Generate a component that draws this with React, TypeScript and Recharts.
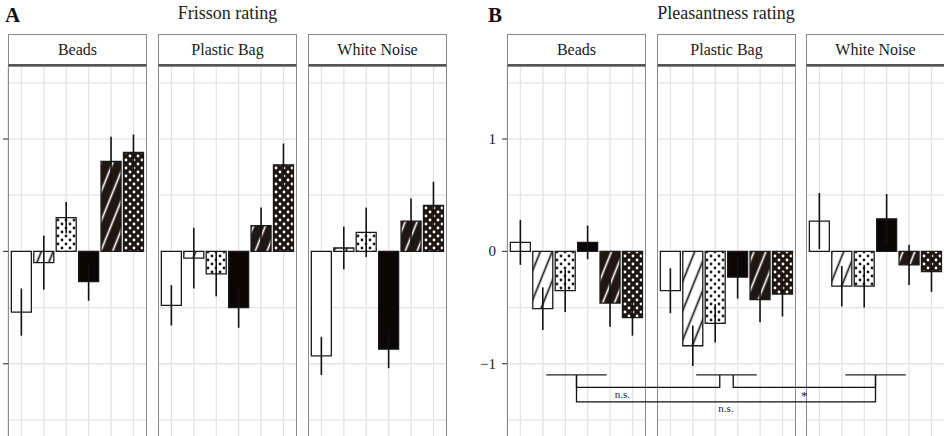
import React from 'react';
import { BarChart, Bar, XAxis, YAxis, CartesianGrid, ErrorBar, Cell } from 'recharts';

// ---------- data ----------
const conditions = ['c1', 'c2', 'c3', 'c4', 'c5', 'c6'];
const fills = ['url(#pWhite)', 'url(#pWhiteHatch)', 'url(#pWhiteDots)', 'url(#pBlack)', 'url(#pBlackHatch)', 'url(#pBlackDots)'];
const facetNames = ['Beads', 'Plastic Bag', 'White Noise'];

const frissonBeads = [-0.54, -0.1, 0.3, -0.27, 0.8, 0.88];
const frissonBeadsSE = [0.21, 0.24, 0.14, 0.17, 0.22, 0.16];
const frissonPlastic = [-0.48, -0.06, -0.2, -0.5, 0.23, 0.77];
const frissonPlasticSE = [0.18, 0.27, 0.2, 0.18, 0.16, 0.19];
const frissonNoise = [-0.93, 0.03, 0.17, -0.87, 0.27, 0.41];
const frissonNoiseSE = [0.17, 0.19, 0.22, 0.17, 0.2, 0.21];

const pleasBeads = [0.08, -0.51, -0.35, 0.08, -0.46, -0.59];
const pleasBeadsSE = [0.2, 0.19, 0.19, 0.15, 0.21, 0.16];
const pleasPlastic = [-0.35, -0.84, -0.64, -0.23, -0.43, -0.38];
const pleasPlasticSE = [0.2, 0.18, 0.17, 0.19, 0.2, 0.2];
const pleasNoise = [0.27, -0.31, -0.31, 0.29, -0.12, -0.18];
const pleasNoiseSE = [0.25, 0.18, 0.19, 0.22, 0.18, 0.18];

const yTicks = [-1.5, -1, -0.5, 0, 0.5, 1, 1.5];

// significance annotations (panel B)
const groupLevel = -1.1;
const groupMarks = [
  { facet: 0, center: 2.5, half: 1.35 },
  { facet: 1, center: 2.5, half: 1.35 },
  { facet: 2, center: 2.5, half: 1.35 },
];
const brackets = [
  { fromFacet: 0, fromPos: 2.5, toFacet: 1, toPos: 2.2, level: -1.21, label: 'n.s.', at: 0.32, dy: 10.5, size: 11 },
  { fromFacet: 1, fromPos: 2.8, toFacet: 2, toPos: 2.5, level: -1.21, label: '*', at: 0.5, dy: 13, size: 13 },
  { fromFacet: 0, fromPos: 2.5, toFacet: 2, toPos: 2.5, level: -1.34, label: 'n.s.', at: 0.5, dy: 10.5, size: 11 },
];

// ---------- layout ----------
const FONT = '"Liberation Serif", "Times New Roman", serif';
const FACET_W = 139;
const PAD = 2.24;
const BAND = (FACET_W - 2 * PAD) / 6;
const STRIP_TOP = 34;
const PLOT_TOP = 66;
const Y_MAX = 1.65;
const Y_MIN = -1.75;
const PX_PER_UNIT = 112.3;
const PLOT_H = Math.round((Y_MAX - Y_MIN) * PX_PER_UNIT);
const AXIS_W = 40;
const TICK_SIZE = 5;
const TICK_MARGIN = 6;

const panelAX = [8, 158, 308];
const panelBX = [507, 657, 806];

const yPx = (v: number) => PLOT_TOP + ((Y_MAX - v) / (Y_MAX - Y_MIN)) * PLOT_H;
const xPx = (facetXs: number[], facet: number, pos: number) => facetXs[facet] + PAD + (pos + 0.5) * BAND;

const build = (vals: number[], se: number[]) => conditions.map((c, i) => ({ cond: c, value: vals[i], se: se[i] }));

const makeTick = (showLabel: boolean) => (props: any) => {
  const { x, y, payload } = props;
  const v = payload.value;
  if (!Number.isInteger(v)) return <g />;
  return (
    <g>
      <line x1={x + TICK_MARGIN} x2={x + TICK_MARGIN + TICK_SIZE} y1={y} y2={y} stroke="#333" strokeWidth={1.1} />
      {showLabel && (
        <text x={x} y={y} dy={5} textAnchor="end" fontSize={15} fontFamily={FONT} fill="#222">
          {v < 0 ? '\u2212' + Math.abs(v) : String(v)}
        </text>
      )}
    </g>
  );
};

function Facet({ left, data, first, showLabels }: any) {
  const w = first ? FACET_W + AXIS_W : FACET_W;
  return (
    <div style={{ position: 'absolute', left: first ? left - AXIS_W : left, top: PLOT_TOP, width: w, height: PLOT_H }}>
      <BarChart width={w} height={PLOT_H} data={data} margin={{ top: 0, right: 0, bottom: 0, left: 0 }} barCategoryGap="5%">
        <CartesianGrid stroke="#e3e3e3" strokeWidth={1.3} />
        <XAxis dataKey="cond" hide padding={{ left: PAD, right: PAD }} />
        <YAxis
          domain={[Y_MIN, Y_MAX]}
          ticks={yTicks}
          allowDataOverflow
          hide={!first}
          width={AXIS_W}
          axisLine={false}
          tickLine={false}
          tickSize={TICK_SIZE}
          tickMargin={TICK_MARGIN}
          tick={makeTick(showLabels)}
          interval={0}
        />
        <Bar dataKey="value" isAnimationActive={false} stroke="#1a1a1a" strokeWidth={1.3}>
          {data.map((d: any, i: number) => (
            <Cell key={i} fill={fills[i]} />
          ))}
          <ErrorBar dataKey="se" width={0} stroke="#111" strokeWidth={1.6} direction="y" />
        </Bar>
      </BarChart>
    </div>
  );
}

function Frames({ xs }: { xs: number[] }) {
  return (
    <>
      {xs.map((x, i) => (
        <React.Fragment key={i}>
          <div
            style={{
              position: 'absolute', left: x, top: STRIP_TOP, width: FACET_W, height: PLOT_TOP - STRIP_TOP,
              boxSizing: 'border-box', border: '1px solid #8a8a8a', borderBottom: '2px solid #555',
              background: '#fff', display: 'flex', alignItems: 'center', justifyContent: 'center',
              fontFamily: FONT, fontSize: 16, color: '#1a1a1a', paddingTop: 1,
            }}
          >
            {facetNames[i]}
          </div>
          <div
            style={{
              position: 'absolute', left: x, top: PLOT_TOP, width: FACET_W, height: PLOT_H,
              boxSizing: 'border-box', border: '1px solid #8a8a8a', pointerEvents: 'none',
            }}
          />
        </React.Fragment>
      ))}
    </>
  );
}

function Patterns() {
  const dots = (bg: string, fg: string, id: string) => (
    <pattern id={id} patternUnits="userSpaceOnUse" width={8} height={8}>
      <rect width={8} height={8} fill={bg} />
      <circle cx={2} cy={2} r={1.4} fill={fg} />
      <circle cx={6} cy={6} r={1.4} fill={fg} />
    </pattern>
  );
  const hatch = (bg: string, fg: string, id: string) => (
    <pattern id={id} patternUnits="userSpaceOnUse" width={11} height={11} patternTransform="rotate(22)">
      <rect width={11} height={11} fill={bg} />
      <line x1={5.5} y1={0} x2={5.5} y2={11} stroke={fg} strokeWidth={1.7} />
    </pattern>
  );
  return (
    <svg width={0} height={0} style={{ position: 'absolute' }}>
      <defs>
        <pattern id="pWhite" patternUnits="userSpaceOnUse" width={10} height={10}>
          <rect width={10} height={10} fill="#ffffff" />
        </pattern>
        <pattern id="pBlack" patternUnits="userSpaceOnUse" width={10} height={10}>
          <rect width={10} height={10} fill="#0c0707" />
        </pattern>
        {hatch('#ffffff', '#1a1a1a', 'pWhiteHatch')}
        {dots('#ffffff', '#1a1a1a', 'pWhiteDots')}
        {hatch('#201614', '#ffffff', 'pBlackHatch')}
        {dots('#201614', '#ffffff', 'pBlackDots')}
      </defs>
    </svg>
  );
}

function Annotations() {
  const top = yPx(groupLevel);
  return (
    <svg width={944} height={436} style={{ position: 'absolute', left: 0, top: 0, pointerEvents: 'none' }}>
      {groupMarks.map((g, i) => (
        <line key={'g' + i} x1={xPx(panelBX, g.facet, g.center - g.half)} x2={xPx(panelBX, g.facet, g.center + g.half)}
          y1={top} y2={top} stroke="#222" strokeWidth={1.3} />
      ))}
      {brackets.map((b, i) => {
        const x1 = xPx(panelBX, b.fromFacet, b.fromPos);
        const x2 = xPx(panelBX, b.toFacet, b.toPos);
        const y = yPx(b.level);
        return (
          <g key={'b' + i}>
            <polyline points={`${x1},${top} ${x1},${y} ${x2},${y} ${x2},${top}`} fill="none" stroke="#111" strokeWidth={1.3} />
            <text x={x1 + (x2 - x1) * b.at} y={y + b.dy} textAnchor="middle" fontSize={b.size} fontFamily={FONT} fill="#222">
              {b.label}
            </text>
          </g>
        );
      })}
    </svg>
  );
}

function Panel({ xs, letter, letterX, title, sets, showLabels }: any) {
  const center = xs[0] + (xs[2] + FACET_W - xs[0]) / 2;
  return (
    <>
      <div style={{ position: 'absolute', left: letterX, top: 3, fontFamily: FONT, fontWeight: 'bold', fontSize: 21, color: '#111', lineHeight: '24px' }}>
        {letter}
      </div>
      <div style={{ position: 'absolute', left: center - 150, width: 300, top: 1, textAlign: 'center', fontFamily: FONT, fontSize: 18, color: '#222', lineHeight: '24px' }}>
        {title}
      </div>
      {sets.map((d: any, i: number) => (
        <Facet key={i} left={xs[i]} data={d} first={i === 0} showLabels={showLabels} />
      ))}
      <Frames xs={xs} />
    </>
  );
}

export default function App() {
  const setsA = [build(frissonBeads, frissonBeadsSE), build(frissonPlastic, frissonPlasticSE), build(frissonNoise, frissonNoiseSE)];
  const setsB = [build(pleasBeads, pleasBeadsSE), build(pleasPlastic, pleasPlasticSE), build(pleasNoise, pleasNoiseSE)];
  return (
    <div style={{ position: 'absolute', left: 0, top: 0, width: 944, height: 436, overflow: 'hidden', background: '#fff' }}>
      <Patterns />
      <Panel xs={panelAX} letter="A" letterX={5} title="Frisson rating" sets={setsA} showLabels={false} />
      <Panel xs={panelBX} letter="B" letterX={488} title="Pleasantness rating" sets={setsB} showLabels={true} />
      <Annotations />
    </div>
  );
}
